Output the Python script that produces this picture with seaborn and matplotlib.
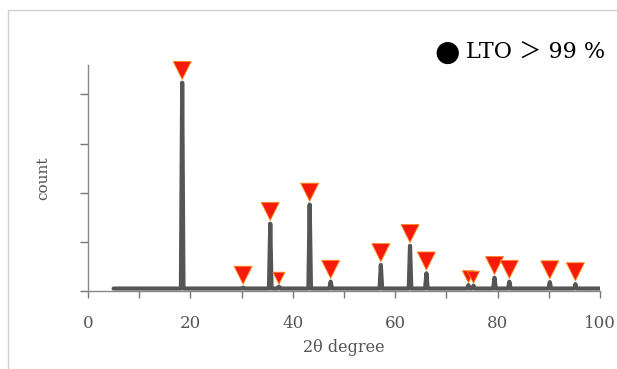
import matplotlib.pyplot as plt
import matplotlib.patches as patches
import seaborn as sns
import pandas as pd

# Peak positions (2theta, degree) and heights (arbitrary count units)
peak_pos = [18.4, 30.3, 35.6, 37.3, 43.3, 47.4, 57.2, 62.9, 66.1, 74.3, 75.3, 79.4, 82.3, 90.2, 95.2]
peak_height = [4.24, 0.07, 1.37, 0.09, 1.76, 0.19, 0.53, 0.92, 0.36, 0.12, 0.11, 0.27, 0.19, 0.18, 0.14]
# small marker for weak reflections
small_marker = [False, False, False, True, False, False, False, False, False, True, True, False, False, False, False]
baseline = 0.05
scan_start, scan_end = 5, 100

x_ticks = [0, 20, 40, 60, 80, 100]
y_ticks = [0, 1, 2, 3, 4]

# build trace from the peak list
xs, ys = [scan_start], [baseline]
for p, h in zip(peak_pos, peak_height):
    xs += [p - 0.25, p, p + 0.25]
    ys += [baseline, h, baseline]
xs.append(scan_end)
ys.append(baseline)
trace = pd.DataFrame({'two_theta': xs, 'count': ys})

markers = pd.DataFrame({
    'two_theta': peak_pos,
    'y': [h + (0.17 if s else 0.25) for h, s in zip(peak_height, small_marker)],
    'size': ['small' if s else 'big' for s in small_marker],
})

sns.set_style('white')
plt.rcParams['font.family'] = ['DejaVu Serif']

fig = plt.figure(figsize=(6.17, 3.69), dpi=100)
ax = fig.add_axes([0.1426, 0.2114, 0.8298, 0.6124])

sns.lineplot(data=trace, x='two_theta', y='count', ax=ax, color='#555555',
             linewidth=3, estimator=None, sort=False)
sns.scatterplot(data=markers, x='two_theta', y='y', ax=ax, size='size',
                sizes={'big': 170, 'small': 75}, marker='v', color='#f51a0a',
                edgecolor='#ff8c1a', linewidth=0.6, legend=False, zorder=5,
                clip_on=False)

ax.set_xlim(0, 100)
ax.set_ylim(0, 4.6)
ax.set_xticks(x_ticks)
ax.set_xticks([10, 30, 50, 70, 90], minor=True)
ax.set_yticks(y_ticks)
ax.set_yticklabels([])
ax.tick_params(axis='x', which='both', direction='out', length=5, width=1,
               color='#777777', labelsize=12, labelcolor='#555555', pad=12, bottom=True)
ax.tick_params(axis='y', direction='out', length=6, width=1, color='#777777', left=True)
for side in ['top', 'right']:
    ax.spines[side].set_visible(False)
for side in ['left', 'bottom']:
    ax.spines[side].set_color('#888888')
    ax.spines[side].set_linewidth(1)

ax.set_xlabel('2θ degree', fontsize=11.5, color='#555555', labelpad=5)
ax.set_ylabel('count', fontsize=11, color='#555555', labelpad=18)

# annotation in the upper right
fig.text(0.981, 0.856, 'LTO ＞ 99 %', ha='right', va='center', fontsize=16,
         color='black', family=['DejaVu Serif', 'Noto Sans CJK JP'])
fig.text(447 / 617, 0.858, '●', ha='center', va='center', fontsize=21, color='black')

fig.patches.append(patches.Rectangle((8 / 617, -0.1), 1.2, 1 - 10 / 369 + 0.1,
                                     transform=fig.transFigure, fill=False,
                                     edgecolor='#d0d0d0', linewidth=1))

fig.savefig('out.png', dpi=100)
